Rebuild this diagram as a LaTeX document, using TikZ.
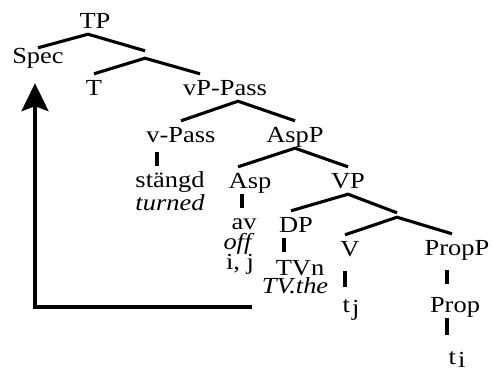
\documentclass[tikz,border=0pt]{standalone}
\usepackage{fontspec}
\setmainfont{Liberation Serif}[FakeStretch=1.15]
\usetikzlibrary{arrows.meta}
\newcommand\trace[1]{t\hspace{2pt}\raisebox{-3pt}{#1}}
\begin{document}
\begin{tikzpicture}
    [x=1pt,y=-1pt,
     lbl/.style={anchor=base,inner xsep=0pt,inner ysep=5pt,text height=16pt,
       text depth=1pt,font=\fontsize{23}{24}\selectfont},
     bar/.style={inner sep=0pt,minimum width=0pt},
     tree/.style={line width=3.1pt},
     move/.style={line width=3.4pt,-{Stealth[length=28pt,width=27pt,inset=5pt]}}]
\useasboundingbox (0,0) rectangle (493,372);
\path
    (95,28) node [lbl] (tp) {TP}
    (38,63) node [lbl,text height=10pt] (spec) {Spec}
    (145,54.5) node [bar,minimum height=7pt] (tbar) {}
    (94,95) node [lbl] (t) {T}
    (225,95) node [lbl] (vpp) {vP-Pass}
    (181,142) node [lbl] (vpass) {v-Pass}
    (295,142) node [lbl] (aspp) {AspP}
    (170,187) node [lbl] (stangd) {stängd}
    (170,210) node [lbl] (turned) {\textit{turned}}
    (250,188) node [lbl] (asp) {Asp}
    (348,188) node [lbl] (vp) {VP}
    (244,229) node [lbl] (av) {av}
    (239,249) node [lbl] (off) {\textit{off}}
    (240,269) node [lbl] (ij) {i, j}
    (296,232) node [lbl] (dp) {DP}
    (397,215) node [bar,minimum height=4pt] (vbar) {}
    (350,256) node [lbl] (v) {V}
    (457,255) node [lbl] (propp) {PropP}
    (300,275) node [lbl] (tvn) {TVn}
    (295,293) node [lbl] (tvthe) {\textit{TV.the}}
    (351,312) node [lbl] (tj) {\trace{j}}
    (455,312) node [lbl] (prop) {Prop}
    (457,364) node [lbl] (ti) {\trace{i}};
% branches
\draw [tree] (spec.north) -- ([xshift=-7pt]tp.south) -- (tbar.north);
\draw [tree] (t.north) -- (tbar.south) -- ([xshift=-25pt]vpp.north);
\draw [tree] (vpass.north) -- ([xshift=13pt]vpp.south) -- (aspp.north);
\draw [tree] ([xshift=-12pt]asp.north) -- (aspp.south) -- (vp.north);
\draw [tree] ([xshift=-5pt]dp.north) -- (vp.south) -- (vbar.north);
\draw [tree] ([xshift=-5pt]v.north) -- (vbar.south) -- ([xshift=-5pt]propp.north);
% unary sticks
\draw [tree,shorten <=4pt] ([xshift=-24pt]vpass.south) -- ([xshift=-13pt]stangd.north);
\draw [tree] ([xshift=-8pt]asp.south) -- ([xshift=-2pt]av.north);
\draw [tree,shorten >=2pt] ([xshift=-12pt]dp.south) -- ([xshift=-16pt]tvn.north);
\draw [tree,shorten <=9pt,shorten >=4pt] ([xshift=-5pt]v.south) -- ([xshift=-6pt]tj.north);
\draw [tree,shorten <=9pt,shorten >=7pt] ([xshift=-10pt]propp.south) -- ([xshift=-8pt]prop.north);
\draw [tree,shorten >=8pt] ([xshift=-8pt]prop.south) -- ([xshift=-10pt]ti.north);
% movement
\coordinate (trail) at ([xshift=-10pt,yshift=-14pt]tvthe.base west);
\draw [move] (trail) -| ([xshift=-3pt,yshift=-14pt]spec.south);
\end{tikzpicture}
\end{document}
